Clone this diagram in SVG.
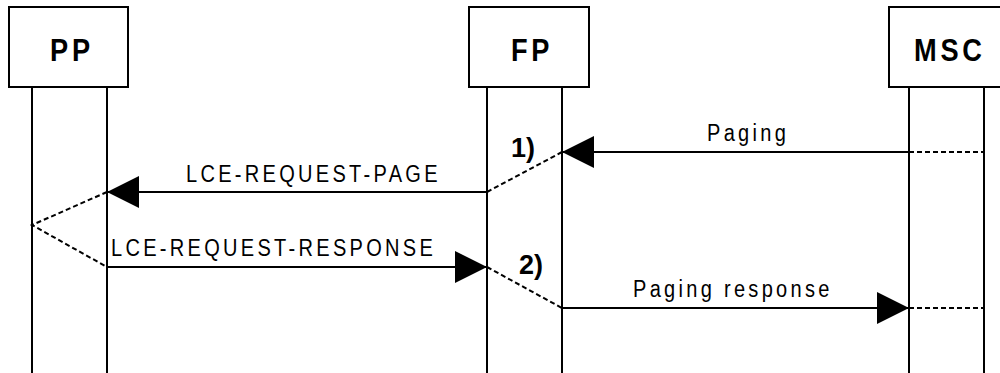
<svg xmlns="http://www.w3.org/2000/svg" width="1000" height="373" viewBox="0 0 1000 373">
<style>
.box{fill:#fff;stroke:#000;stroke-width:2}
.life{stroke:#000;stroke-width:2;fill:none}
.msg{stroke:#000;stroke-width:2;fill:none}
.dash{stroke:#000;stroke-width:2;fill:none;stroke-dasharray:5 3}
.title{font-family:"Liberation Sans",Arial,sans-serif;font-weight:bold;font-size:32px;letter-spacing:4.4px;fill:#000}
.lbl{font-family:"Liberation Sans",Arial,sans-serif;font-size:23px;letter-spacing:3.8px;fill:#000}
.num{font-family:"Liberation Sans",Arial,sans-serif;font-weight:bold;font-size:27px;fill:#000}
</style>
<defs>
<marker id="ah" markerUnits="userSpaceOnUse" markerWidth="32" markerHeight="32" refX="32" refY="16" orient="auto" viewBox="0 0 32 32">
<path d="M0,0 L32,16 L0,32 z" fill="#000"/>
</marker>
</defs>
<rect width="1000" height="373" fill="#fff"/>
<g id="PP">
<rect class="box" x="9" y="7" width="119" height="80"/>
<text class="title" transform="translate(50,61) scale(0.85,1)">PP</text>
<line class="life" x1="32" y1="87" x2="32" y2="373"/>
<line class="life" x1="107" y1="87" x2="107" y2="373"/>
</g>
<g id="FP">
<rect class="box" x="469" y="7" width="120" height="80"/>
<text class="title" transform="translate(511,61) scale(0.85,1)">FP</text>
<line class="life" x1="487" y1="87" x2="487" y2="373"/>
<line class="life" x1="562" y1="87" x2="562" y2="373"/>
</g>
<g id="MSC">
<rect class="box" x="889" y="7" width="120" height="80"/>
<text class="title" transform="translate(914,61) scale(0.85,1)">MSC</text>
<line class="life" x1="909" y1="87" x2="909" y2="373"/>
<line class="life" x1="984" y1="87" x2="984" y2="373"/>
</g>
<g id="connectors">
<line class="dash" x1="909" y1="152" x2="984" y2="152"/>
<line class="msg" x1="909" y1="152" x2="562" y2="152" marker-end="url(#ah)"/>
<text class="lbl" transform="translate(707,141) scale(0.87,1)">Paging</text>
<text class="num" x="511" y="157">1)</text>
<line class="dash" x1="487" y1="192" x2="562" y2="152"/>
<line class="msg" x1="487" y1="192" x2="107" y2="192" marker-end="url(#ah)"/>
<text class="lbl" transform="translate(186,182) scale(0.87,1)">LCE-REQUEST-PAGE</text>
<polyline class="dash" points="107,192 32,225 107,267"/>
<line class="msg" x1="107" y1="267" x2="487" y2="267" marker-end="url(#ah)"/>
<text class="lbl" transform="translate(111,256) scale(0.87,1)">LCE-REQUEST-RESPONSE</text>
<text class="num" x="519" y="274">2)</text>
<line class="dash" x1="487" y1="267" x2="562" y2="308"/>
<line class="msg" x1="562" y1="308" x2="909" y2="308" marker-end="url(#ah)"/>
<line class="dash" x1="909" y1="308" x2="984" y2="308"/>
<text class="lbl" transform="translate(633,297) scale(0.87,1)">Paging response</text>
</g>
</svg>
